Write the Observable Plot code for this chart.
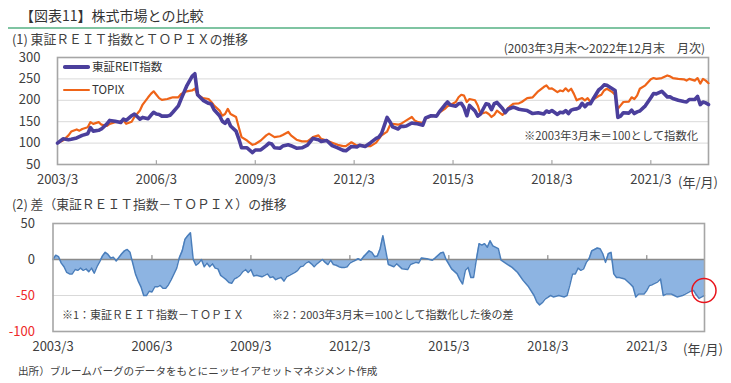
<!DOCTYPE html>
<html><head><meta charset="utf-8">
<script src="https://cdn.jsdelivr.net/npm/d3@7"></script>
<script src="https://cdn.jsdelivr.net/npm/@observablehq/plot@0.6"></script>
<style>
body{margin:0;width:731px;height:383px;position:relative;background:#fff;overflow:hidden;font-family:'Noto Sans CJK JP',sans-serif;color:#404040}
.t{position:absolute;line-height:1;white-space:nowrap}
</style></head><body>
<div class="t" style="left:20px;top:8px;font-size:14px;color:#333">【図表11】株式市場との比較</div>
<div style="position:absolute;left:8px;top:27px;width:702px;height:2px;background:#7fc4a2"></div>
<div class="t" style="left:12px;top:32.5px;font-size:12.8px">(1) 東証ＲＥＩＴ指数とＴＯＰＩＸの推移</div>
<div class="t" style="right:26px;top:42px;font-size:12px">(2003年3月末～2022年12月末　月次)</div>
<div class="t" style="left:12px;top:198px;font-size:12.8px">(2) 差（東証ＲＥＩＴ指数－ＴＯＰＩＸ）の推移</div>
<div class="t" style="left:18px;top:366px;font-size:10.6px">出所）ブルームバーグのデータをもとにニッセイアセットマネジメント作成</div>
<script>
// ---- data (month index: 0 = 2003/3, 237 = 2022/12) ----
const seriesNames = ["東証REIT指数", "TOPIX"];
const lineMonths = [0,2,4,5,7,8,9,11,12,13,15,16,18,19,21,23,24,25,27,28,30,31,33,34,35,36,37,38,40,41,42,44,45,47,49,50,51,53,55,56,57,59,60,61,62,63,65,66,67,69,71,72,74,76,77,78,79,81,82,84,85,87,89,91,93,95,96,98,100,102,104,105,107,109,110,112,114,116,117,118,120,121,122,124,125,126,127,129,130,131,133,134,136,138,139,141,142,143,145,146,147,148,149,150,152,153,154,156,157,158,159,160,162,163,164,166,168,169,171,173,175,177,178,179,180,182,183,184,185,186,187,188,189,190,191,192,193,194,195,197,198,199,200,202,203,204,205,206,208,209,210,211,212,214,216,217,218,220,222,223,224,226,228,229,230,232,233,234,235,236,237];
const topix = [100,106,118,127,132,129,133,137,149,145,149,143,140,145,149,150,153,145,150,161,176,190,207,215,221,213,205,201,203,205,207,207,215,221,223,227,213,205,203,196,188,176,164,168,180,168,161,137,114,106,96,98,106,118,122,118,114,116,119,126,118,108,104,104,114,118,110,106,101,96,93,93,102,94,96,93,93,101,110,118,127,141,145,143,145,149,153,161,153,150,147,157,163,164,171,180,186,189,196,207,213,211,196,203,200,188,168,172,168,161,166,176,166,172,182,192,193,196,205,207,221,231,235,227,228,219,223,221,228,221,227,215,200,203,205,200,205,196,202,210,213,223,227,219,213,180,188,196,197,207,203,211,227,235,249,252,250,252,258,256,252,250,249,246,250,246,252,239,250,246,240];
const reit = [100,110,108,109,112,115,118,122,136,128,130,133,145,153,151,148,156,153,164,168,156,160,157,165,172,168,167,163,163,165,172,187,203,233,256,262,213,200,193,191,178,164,151,146,155,140,128,110,89,89,78,84,84,94,100,98,89,88,93,96,94,88,89,95,111,108,104,106,94,89,83,82,92,91,95,92,101,111,114,123,160,150,138,133,139,139,140,147,146,145,142,159,164,163,173,189,196,189,186,192,193,183,164,188,175,163,168,192,190,178,192,195,181,171,179,184,179,178,176,169,171,168,175,172,176,167,172,171,176,169,177,179,180,183,193,185,192,192,203,224,229,236,235,227,223,160,163,171,170,177,169,173,175,187,206,216,215,221,208,208,204,200,197,196,202,202,209,190,196,194,190];
const diffMonths = [0,1,2,3,4,5,6,7,8,9,10,11,12,13,14,15,16,17,18,19,20,21,22,23,24,25,26,27,28,29,30,31,32,33,34,35,36,37,38,39,40,41,42,43,44,45,46,47,48,49,50,51,52,53,54,55,56,57,58,59,60,61,62,63,64,65,66,67,68,69,70,71,72,73,74,75,76,77,78,79,80,81,82,83,84,85,86,87,88,89,90,91,92,93,94,95,96,97,98,99,100,101,102,103,104,105,106,107,108,109,110,111,112,113,114,115,116,117,118,119,120,122,124,125,127,129,130,132,133,134,136,138,139,141,142,143,145,147,148,149,150,151,152,153,154,155,156,157,158,159,160,162,163,165,167,169,171,173,175,176,177,178,179,181,182,184,186,187,188,189,190,191,192,193,194,195,196,198,199,200,201,202,203,204,205,206,208,210,211,212,213,215,216,217,218,220,221,222,223,225,226,227,229,230,232,233,234,235,236,237];
const diff = [0,6,4,-5,-10,-18,-20,-20,-14,-15,-12,-15,-13,-17,-12,-19,-10,-3,5,10,7,2,3,-2,3,8,12,14,10,-5,-20,-30,-38,-50,-50,-44,-45,-38,-38,-36,-40,-40,-35,-28,-20,-12,3,12,28,33,37,0,-8,-5,0,-10,-5,-10,-6,-12,-13,-22,-25,-28,-32,-33,-27,-25,-22,-17,-14,-18,-14,-23,-22,-23,-24,-22,-20,-25,-24,-28,-26,-25,-30,-24,-22,-20,-18,-15,-10,-9,-5,-3,-6,-10,-6,-3,0,-4,-7,-1,-7,-8,-10,-11,-11,-10,-5,-3,-1,1,-1,4,8,12,10,4,5,15,33,-7,-10,-6,-13,-14,-7,-4,-5,2,1,-1,2,9,10,0,-13,-20,-28,-34,-15,-11,-25,-25,0,22,20,22,17,26,19,15,-1,-6,-11,-18,-29,-38,-50,-59,-63,-60,-55,-50,-52,-50,-52,-50,-36,-20,-20,-12,-15,-13,-4,1,12,16,15,8,-4,8,10,-20,-25,-25,-27,-34,-38,-52,-48,-48,-43,-36,-35,-31,-27,-50,-48,-48,-50,-52,-50,-48,-44,-43,-49,-54,-52,-50];
const xTickMonths = [0,36,72,108,144,180,216];
const xTickLabels = ["2003/3","2006/3","2009/3","2012/3","2015/3","2018/3","2021/3"];
const topYTicks = [50,100,150,200,250,300];
const topGrid = [100,150,200,250];
const diffYTicksPos = [50,0];
const diffYTicksNeg = [-50,-100];
const notes = ["※2003年3月末＝100として指数化","※1：東証ＲＥＩＴ指数－ＴＯＰＩＸ","※2：2003年3月末＝100として指数化した後の差"];

const colors = {reit:"#4b3f9c", topix:"#ef6418", areaFill:"#8db4e2", areaStroke:"#4a7ebb", frame:"#a6a6a6", grid:"#d9d9d9", zero:"#8a8a8a", neg:"#ee2a2a", circle:"#e8141c"};
const font = "'Noto Sans CJK JP', sans-serif";
const lab = new Map(xTickMonths.map((m,i)=>[m,xTickLabels[i]]));
const tickShape = {draw(ctx,l){ctx.moveTo(0,0);ctx.lineTo(0,-l);}};

const lineData = lineMonths.map((m,i)=>({m, topix:topix[i], reit:reit[i]}));
const diffData = diffMonths.map((m,i)=>({m, d:diff[i]}));

const topChart = Plot.plot({
  width:731, height:145, marginLeft:57, marginRight:23, marginTop:7, marginBottom:31,
  style:{fontFamily:font, fontSize:"13px", color:"#404040", overflow:"visible"},
  x:{type:"linear", domain:[0,237], label:null},
  y:{domain:[50,300], label:null},
  marks:[
    Plot.gridY(topGrid,{stroke:colors.grid, strokeOpacity:1, strokeWidth:1}),
    Plot.frame({stroke:colors.frame, strokeWidth:1.6}),
    Plot.vector(xTickMonths.slice(1),{x:d=>d, frameAnchor:"bottom", length:4, rotate:0, anchor:"start", shape:tickShape, stroke:colors.frame, strokeWidth:1.2}),
    Plot.axisY(topYTicks,{tickSize:0, tickPadding:17, fontSize:13, fill:"#404040", label:null}),
    Plot.axisX(xTickMonths,{tickSize:0, tickPadding:10.5, fontSize:13, fill:"#404040", tickFormat:d=>lab.get(d), label:null}),
    Plot.lineY(lineData,{x:"m", y:"topix", stroke:colors.topix, strokeWidth:2.2, strokeLinejoin:"round"}),
    Plot.lineY(lineData,{x:"m", y:"reit", stroke:colors.reit, strokeWidth:3.6, strokeLinejoin:"round"})
  ]
});

const bottomChart = Plot.plot({
  width:731, height:150, marginLeft:52.5, marginRight:27, marginTop:8, marginBottom:34,
  style:{fontFamily:font, fontSize:"13px", color:"#404040", overflow:"visible"},
  x:{type:"linear", domain:[0,237], label:null},
  y:{domain:[-100,50], label:null},
  marks:[
    Plot.gridY([-50],{stroke:colors.grid, strokeOpacity:1, strokeWidth:1}),
    Plot.areaY(diffData,{x:"m", y:"d", fill:colors.areaFill, fillOpacity:1}),
    Plot.ruleY([0],{stroke:colors.zero, strokeWidth:1.6}),
    Plot.lineY(diffData,{x:"m", y:"d", stroke:colors.areaStroke, strokeWidth:1.5, strokeLinejoin:"round"}),
    Plot.frame({stroke:colors.frame, strokeWidth:1.6}),
    Plot.vector(xTickMonths.slice(1),{x:d=>d, y:0, length:4, rotate:0, anchor:"start", shape:tickShape, stroke:colors.zero, strokeWidth:1.2}),
    Plot.axisY(diffYTicksPos,{tickSize:0, tickPadding:18, fontSize:13, fill:"#404040", label:null}),
    Plot.axisY(diffYTicksNeg,{tickSize:0, tickPadding:18, fontSize:13, fill:colors.neg, tickFormat:d=>String(d), label:null}),
    Plot.axisX(xTickMonths,{tickSize:0, tickPadding:10.5, fontSize:13, fill:"#404040", tickFormat:d=>lab.get(d), label:null}),
    Plot.dot(diffData.slice(-1),{x:"m", y:"d", r:12, dx:-0.5, dy:-5, stroke:colors.circle, strokeWidth:1.5, fill:"none"})
  ]
});

for (const [svg, t] of [[topChart,50],[bottomChart,215]]) {
  svg.style.position="absolute"; svg.style.left="0px"; svg.style.top=t+"px";
  document.body.appendChild(svg);
}

function addText(txt, css){ const d=document.createElement("div"); d.className="t"; d.textContent=txt; Object.assign(d.style, css); document.body.appendChild(d); }
function addLine(x,y,w,h,c){ const d=document.createElement("div"); Object.assign(d.style,{position:"absolute",left:x+"px",top:(y-h/2)+"px",width:w+"px",height:h+"px",background:c,borderRadius:(h/2)+"px"}); document.body.appendChild(d); }
addLine(63,67,27,3.6,colors.reit);
addLine(63,90,27,2.2,colors.topix);
addText(seriesNames[0],{left:"92px",top:"61px",fontSize:"11.5px",color:"#333"});
addText(seriesNames[1],{left:"92px",top:"84px",fontSize:"11.5px",color:"#333"});
addText(notes[0],{right:"33px",top:"129.5px",fontSize:"11.3px"});
addText(notes[1],{left:"62px",top:"308.5px",fontSize:"11px"});
addText(notes[2],{left:"272px",top:"308.5px",fontSize:"11px"});
addText("(年/月)",{left:"678px",top:"174.5px",fontSize:"13px"});
addText("(年/月)",{left:"683px",top:"341.5px",fontSize:"13px"});
</script>
</body></html>
